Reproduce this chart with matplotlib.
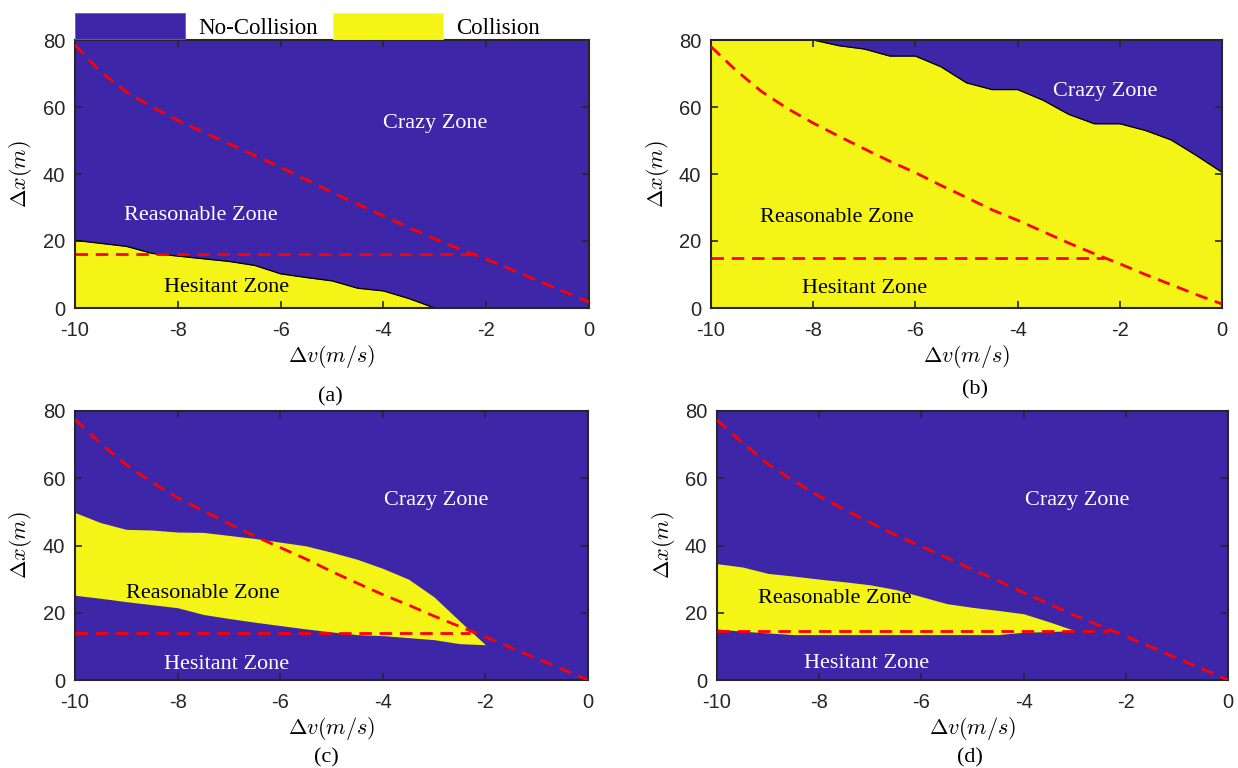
import matplotlib
matplotlib.use('Agg')
import matplotlib.pyplot as plt
from matplotlib.patches import Patch

plt.rcParams['font.family'] = ['Liberation Serif', 'DejaVu Serif']
plt.rcParams['mathtext.fontset'] = 'cm'
plt.rcParams['axes.unicode_minus'] = False

# relative speed grid (m/s)
dv = [-10.0, -9.5, -9.0, -8.5, -8.0, -7.5, -7.0, -6.5, -6.0, -5.5, -5.0,
      -4.5, -4.0, -3.5, -3.0, -2.5, -2.0, -1.5, -1.0, -0.5, 0.0]

# red dashed "crazy" boundary per panel
crazy_a = [78.5, 70.5, 64.5, 60.0, 56.0, 52.5, 49.0, 45.5, 42.0, 38.3, 34.5,
           31.0, 27.5, 24.0, 20.6, 17.5, 14.6, 11.4, 8.2, 5.0, 1.8]
crazy_b = [78.0, 70.8, 64.5, 59.5, 55.2, 51.3, 47.5, 43.8, 40.4, 36.6, 33.0,
           29.3, 26.2, 22.8, 19.4, 16.2, 13.2, 10.0, 7.0, 4.0, 1.2]
crazy_c = [77.5, 70.3, 64.0, 58.8, 54.2, 50.3, 46.5, 42.8, 39.4, 36.0, 32.3,
           28.8, 25.4, 22.3, 19.0, 15.9, 12.8, 9.6, 6.4, 3.2, 0.0]
crazy_d = [77.3, 70.6, 64.2, 59.2, 54.7, 50.6, 46.8, 43.1, 39.7, 36.3, 32.9,
           29.5, 26.0, 22.6, 19.2, 16.1, 13.0, 9.8, 6.5, 3.3, 0.0]

# red dashed "hesitant" level and where it stops
hesitant_level = [16.2, 15.0, 14.0, 14.5]
hesitant_end = [-2.3, -2.3, -2.3, -2.33]

# collision region boundaries
coll_a_top = [20.2, 19.3, 18.4, 16.3, 15.5, 14.7, 13.9, 12.7, 10.2, 9.1, 8.1,
              5.9, 5.1, 2.8, 0.0]                      # dv -10 .. -3
coll_b_top = [80.0, 80.0, 80.0, 80.0, 80.0, 78.3, 77.3, 75.2, 75.2, 72.0, 67.2,
              65.2, 65.2, 62.0, 57.8, 55.0, 55.0, 53.0, 50.2, 45.5, 40.5]  # dv -10 .. 0
coll_c_top = [49.8, 46.8, 44.8, 44.6, 44.0, 43.9, 43.0, 42.1, 41.0, 39.9, 38.0,
              35.9, 33.2, 30.0, 24.7, 17.5, 10.5]        # dv -10 .. -2
coll_c_bot = [25.2, 24.3, 23.3, 22.4, 21.5, 19.5, 18.3, 17.2, 16.2, 15.2, 14.3,
              13.5, 13.2, 12.6, 12.0, 10.8, 10.5]
coll_d_top = [34.6, 33.6, 31.7, 30.9, 30.0, 29.2, 28.3, 26.9, 24.8, 22.7, 21.6,
              20.7, 19.7, 17.3, 14.7]                    # dv -10 .. -3
coll_d_bot = [15.2, 14.5, 14.0, 13.5, 13.5, 13.5, 13.5, 13.5, 13.5, 13.5, 13.5,
              13.5, 14.2, 14.4, 14.7]

captions = ['(a)', '(b)', '(c)', '(d)']
zone_names = ['Crazy Zone', 'Reasonable Zone', 'Hesitant Zone']
# label anchor (dv, dx) and colour for each zone in each panel
zone_pos = [[(-3.0, 55.2), (-7.55, 27.5), (-7.05, 6.0)],
            [(-2.28, 64.6), (-7.53, 27.0), (-7.0, 5.7)],
            [(-2.95, 53.4), (-7.5, 25.6), (-7.05, 4.5)],
            [(-2.95, 53.4), (-7.69, 24.1), (-7.08, 4.8)]]
zone_color = [['white', 'white', 'black'],
              ['white', 'black', 'black'],
              ['white', 'black', 'white'],
              ['white', 'black', 'white']]

blue = '#3E26A8'
yellow = '#F5F417'
W, H = 1238, 768

fig = plt.figure(figsize=(W / 100, H / 100), dpi=100)
# axes boxes in pixels: left, top, right, bottom
boxes = [(75, 40, 589, 308), (711, 40, 1222, 308),
         (75, 411, 588, 680), (717, 411, 1228, 680)]
axes = []
for l, t, r, b in boxes:
    axes.append(fig.add_axes([l / W, 1 - b / H, (r - l) / W, (b - t) / H]))

for ax in axes:
    ax.set_facecolor(blue)

# collision fills
axes[0].fill_between(dv[:15], 0, coll_a_top, color=yellow, lw=0, zorder=1)
axes[0].plot(dv[:15], coll_a_top, color='black', lw=0.9, zorder=2)
axes[1].fill_between(dv, 0, coll_b_top, color=yellow, lw=0, zorder=1)
axes[1].plot(dv[4:], coll_b_top[4:], color='black', lw=0.9, zorder=2)
axes[2].fill_between(dv[:17], coll_c_bot, coll_c_top, color=yellow, lw=0, zorder=1)
axes[3].fill_between(dv[:15], coll_d_bot, coll_d_top, color=yellow, lw=0, zorder=1)

crazy = [crazy_a, crazy_b, crazy_c, crazy_d]
caption_y = [-0.33, -0.305, -0.29, -0.29]
caption_x = [0.496, 0.517, 0.49, 0.495]
for i, ax in enumerate(axes):
    ax.plot(dv, crazy[i], color='red', lw=2, dashes=(4.5, 2.8), zorder=3)
    ax.plot([-10, hesitant_end[i]], [hesitant_level[i]] * 2, color='red', lw=2,
            dashes=(4.5, 2.8), zorder=3)
    for name, (x, y), c in zip(zone_names, zone_pos[i], zone_color[i]):
        ax.text(x, y, name, color=c, fontsize=16, ha='center', va='center', zorder=4)

    ax.set_xlim(-10, 0)
    ax.set_ylim(0, 80)
    ax.set_xticks([-10, -8, -6, -4, -2, 0])
    ax.set_yticks([0, 20, 40, 60, 80])
    ax.tick_params(direction='in', top=True, right=True, length=5, width=1.2,
                   labelsize=14.5, labelfontfamily='Liberation Sans', colors='#262626')
    ax.tick_params(axis='x', pad=9)
    ax.tick_params(axis='y', pad=7)
    for s in ax.spines.values():
        s.set_linewidth(1.5)
        s.set_color('#262626')
    ax.set_xlabel(r'$\Delta v(m/s)$', fontsize=16)
    ax.set_ylabel(r'$\Delta x(m)$', fontsize=16)
    ax.xaxis.set_label_coords(0.5, -0.13)
    ax.yaxis.set_label_coords(-0.079, 0.5)
    ax.text(caption_x[i], caption_y[i], captions[i], transform=ax.transAxes,
            fontsize=16, ha='center', va='center')

handles = [Patch(facecolor=blue, edgecolor='#6a5cc0', lw=0.6),
           Patch(facecolor=yellow, edgecolor='#f8f870', lw=0.6)]
fig.legend(handles, ['No-Collision', 'Collision'], loc='lower left',
           bbox_to_anchor=(75 / W, 1 - 39 / H), ncol=2, frameon=False,
           borderpad=0, borderaxespad=0, fontsize=16.5,
           handlelength=4.8, handleheight=1.35, handletextpad=0.57,
           columnspacing=0.65)

fig.savefig('out.png', dpi=100)
